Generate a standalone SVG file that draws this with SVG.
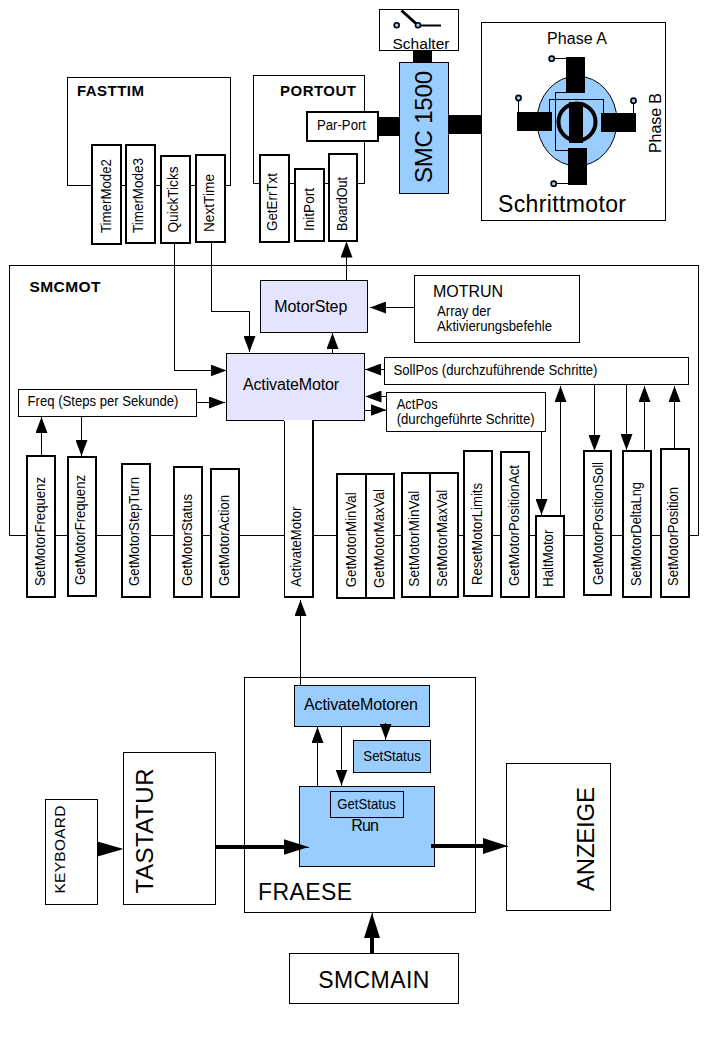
<svg xmlns="http://www.w3.org/2000/svg" width="719" height="1048" viewBox="0 0 719 1048">
<style>
text{font-family:"Liberation Sans",Arial,sans-serif;fill:#000;font-size:14px}
.b{fill:#fff;stroke:#000;stroke-width:1;shape-rendering:crispEdges}
.m{fill:#fff;stroke:#000;stroke-width:2;shape-rendering:crispEdges}
.blue{fill:#99ccff;stroke:#000;stroke-width:1;shape-rendering:crispEdges}
.lav{fill:#e4e4ff;stroke:#000;stroke-width:1;shape-rendering:crispEdges}
.k{fill:#000;stroke:none;shape-rendering:crispEdges}
.c{fill:none;stroke:#000;stroke-width:1;marker-end:url(#a);shape-rendering:crispEdges}
.n{fill:none;stroke:#000;stroke-width:1;shape-rendering:crispEdges}
.h{fill:none;stroke:#000;stroke-width:4;shape-rendering:crispEdges}
.ht{fill:none;stroke:#000;stroke-width:1;marker-end:url(#t);shape-rendering:crispEdges}
.pin{fill:#99ccff;stroke:#000;stroke-width:1.6}
.bold{font-weight:bold;font-size:15px}
.s16{font-size:16px}.s15{font-size:15.5px}.s24{font-size:24px}.s23{font-size:23px}
</style>
<defs>
<marker id="a" markerUnits="userSpaceOnUse" markerWidth="16" markerHeight="12" viewBox="0 0 16 12" refX="16" refY="6" orient="auto"><polygon points="0,0 16,6 0,12" fill="#000"/></marker>
<marker id="t" markerUnits="userSpaceOnUse" markerWidth="25" markerHeight="16" viewBox="0 0 25 16" refX="25" refY="8" orient="auto"><polygon points="0,0 25,8 0,16" fill="#000"/></marker>
</defs>

<g id="FASTTIM"><rect class="b" x="67.5" y="77.5" width="163" height="108"/><text class="bold" x="77" y="96" textLength="67">FASTTIM</text></g>
<g id="PORTOUT"><rect class="b" x="253.5" y="75.5" width="111" height="108"/><text class="bold" x="280" y="96" textLength="76">PORTOUT</text></g>
<g id="SMCMOT"><rect class="b" x="9.5" y="265.5" width="689" height="270"/><text class="bold" x="29.5" y="292" textLength="71" style="font-size:15.5px">SMCMOT</text></g>
<g id="FRAESE"><rect class="b" x="244.5" y="677.5" width="231" height="235"/><text class="s23" x="258" y="899.5" textLength="94">FRAESE</text></g>

<g id="Schalter"><rect class="b" x="379.5" y="9.5" width="79" height="41"/><path d="M401.5 10.5 416.5 24" stroke="#000" stroke-width="3" fill="none"/><path d="M418 25.5H441" stroke="#000" stroke-width="2" fill="none"/><circle class="pin" cx="396.7" cy="25.3" r="2.5"/><circle class="pin" cx="418" cy="25.3" r="2.5"/><text class="s15" x="392.5" y="48.5" textLength="57">Schalter</text></g>
<g id="SMC1500"><rect class="k" x="413" y="50" width="19" height="12"/><rect class="k" x="379" y="117" width="20" height="19"/><rect class="k" x="449" y="115" width="32" height="19"/><rect class="blue" x="399.5" y="62.5" width="49" height="131"/><text class="s24" transform="translate(432,183) rotate(-90)" textLength="112">SMC 1500</text></g>
<g id="Schrittmotor"><rect class="b" x="481.5" y="22.5" width="184" height="198"/>
<ellipse cx="577" cy="121" rx="40" ry="45" fill="#99ccff" stroke="#000" stroke-width="1"/>
<rect class="k" x="566" y="57" width="19" height="36"/><rect class="k" x="568" y="148" width="19" height="37"/><rect class="k" x="517" y="112" width="35" height="19"/><rect class="k" x="601" y="113" width="35" height="19"/>
<circle cx="577" cy="122" r="18.5" fill="none" stroke="#000" stroke-width="4"/><rect class="k" x="569" y="102" width="14" height="41"/>
<path class="n" d="M566 92.5H555.5V150.5H568M549.5 112V99.5H603.5V113M552 58.5H566M553.5 183.5H568M518.5 98V112M633.5 101V113"/>
<circle class="pin" cx="551.7" cy="58.7" r="2.6"/><circle class="pin" cx="553.7" cy="183.7" r="2.6"/><circle class="pin" cx="518.5" cy="98" r="2.6"/><circle class="pin" cx="633.5" cy="100.7" r="2.6"/>
<text class="s16" x="547" y="43.5" textLength="60">Phase A</text><text class="s16" transform="translate(661,153) rotate(-90)" textLength="60">Phase B</text><text class="s23" x="498" y="212" textLength="128">Schrittmotor</text></g>
<g id="ParPort"><rect class="m" x="307" y="112" width="71" height="29"/><text x="317" y="130" textLength="49" lengthAdjust="spacingAndGlyphs">Par-Port</text></g>

<g id="TimerMode2"><rect class="m" x="92" y="145" width="29" height="99"/><text transform="translate(110.7,233) rotate(-90)" textLength="74" lengthAdjust="spacingAndGlyphs">TimerMode2</text></g>
<g id="TimerMode3"><rect class="m" x="126" y="145" width="29" height="98"/><text transform="translate(143.3,233) rotate(-90)" textLength="75" lengthAdjust="spacingAndGlyphs">TimerMode3</text></g>
<g id="QuickTicks"><rect class="m" x="161" y="156" width="29" height="87"/><text transform="translate(178.3,232.5) rotate(-90)" textLength="66" lengthAdjust="spacingAndGlyphs">QuickTicks</text></g>
<g id="NextTime"><rect class="m" x="196" y="155" width="29" height="87"/><text transform="translate(214.3,232) rotate(-90)" textLength="58" lengthAdjust="spacingAndGlyphs">NextTime</text></g>
<g id="GetErrTxt"><rect class="m" x="260" y="155" width="29" height="87"/><text transform="translate(276.7,231) rotate(-90)" textLength="58" lengthAdjust="spacingAndGlyphs">GetErrTxt</text></g>
<g id="InitPort"><rect class="m" x="295" y="169" width="29" height="72"/><text transform="translate(314,231) rotate(-90)" textLength="43" lengthAdjust="spacingAndGlyphs">InitPort</text></g>
<g id="BoardOut"><rect class="m" x="329" y="154" width="28" height="87"/><text transform="translate(346.7,231) rotate(-90)" textLength="54" lengthAdjust="spacingAndGlyphs">BoardOut</text></g>

<g id="MotorStep"><rect class="lav" x="260.5" y="280.5" width="107" height="52"/><text class="s16" x="274.3" y="312" textLength="73">MotorStep</text></g>
<g id="ActivateMotorBox"><rect class="lav" x="226.5" y="353.5" width="138" height="67"/><text class="s16" x="243" y="389.5" textLength="96">ActivateMotor</text></g>
<g id="MOTRUN"><rect class="b" x="414.5" y="275.5" width="165" height="67"/><text class="s16" x="433" y="297" textLength="70">MOTRUN</text><text x="437" y="316" textLength="54" lengthAdjust="spacingAndGlyphs">Array der</text><text x="437" y="331" textLength="115" lengthAdjust="spacingAndGlyphs">Aktivierungsbefehle</text></g>
<g id="Freq"><rect class="b" x="18.5" y="389.5" width="178" height="27"/><text x="27.5" y="406" textLength="151" lengthAdjust="spacingAndGlyphs">Freq (Steps per Sekunde)</text></g>
<g id="SollPos"><rect class="b" x="384.5" y="357.5" width="304" height="27"/><text x="393.5" y="374.5" textLength="204" lengthAdjust="spacingAndGlyphs">SollPos (durchzuführende Schritte)</text></g>
<g id="ActPos"><rect class="b" x="386.5" y="392.5" width="159" height="39"/><text x="396.7" y="409" textLength="41" lengthAdjust="spacingAndGlyphs">ActPos</text><text x="396.7" y="423.5" textLength="138" lengthAdjust="spacingAndGlyphs">(durchgeführte Schritte)</text></g>

<g id="SetMotorFrequenz"><rect class="m" x="27" y="456" width="28" height="141"/><text transform="translate(45,586) rotate(-90)" textLength="109" lengthAdjust="spacingAndGlyphs">SetMotorFrequenz</text></g>
<g id="GetMotorFrequenz"><rect class="m" x="68" y="457" width="28" height="139"/><text transform="translate(85.3,585) rotate(-90)" textLength="110" lengthAdjust="spacingAndGlyphs">GetMotorFrequenz</text></g>
<g id="GetMotorStepTurn"><rect class="m" x="122" y="464" width="28" height="133"/><text transform="translate(139.3,586) rotate(-90)" textLength="109" lengthAdjust="spacingAndGlyphs">GetMotorStepTurn</text></g>
<g id="GetMotorStatus"><rect class="m" x="174" y="467" width="28" height="130"/><text transform="translate(191.7,586) rotate(-90)" textLength="92" lengthAdjust="spacingAndGlyphs">GetMotorStatus</text></g>
<g id="GetMotorAction"><rect class="m" x="211" y="469" width="28" height="128"/><text transform="translate(229,586) rotate(-90)" textLength="91" lengthAdjust="spacingAndGlyphs">GetMotorAction</text></g>
<g id="ActivateMotor"><rect x="284" y="420" width="28" height="177" fill="#fff"/><path d="M284 597H312.5V420" fill="none" stroke="#000" stroke-width="2" shape-rendering="crispEdges"/><path d="M284 421V597" fill="none" stroke="#000" stroke-width="1" shape-rendering="crispEdges"/><text transform="translate(301,586.7) rotate(-90)" textLength="80" lengthAdjust="spacingAndGlyphs">ActivateMotor</text></g>
<g id="GetMotorMinVal"><rect class="m" x="337" y="474" width="29" height="124"/><text transform="translate(356,587.3) rotate(-90)" textLength="95" lengthAdjust="spacingAndGlyphs">GetMotorMinVal</text></g>
<g id="GetMotorMaxVal"><rect class="m" x="366" y="474" width="28" height="124"/><text transform="translate(383.7,588) rotate(-90)" textLength="99" lengthAdjust="spacingAndGlyphs">GetMotorMaxVal</text></g>
<g id="SetMotorMinVal"><rect class="m" x="402" y="473" width="28" height="124"/><text transform="translate(419,586.7) rotate(-90)" textLength="96" lengthAdjust="spacingAndGlyphs">SetMotorMinVal</text></g>
<g id="SetMotorMaxVal"><rect class="m" x="430" y="473" width="28" height="124"/><text transform="translate(446.7,586.7) rotate(-90)" textLength="97" lengthAdjust="spacingAndGlyphs">SetMotorMaxVal</text></g>
<g id="ResetMotorLimits"><rect class="m" x="464" y="451" width="28" height="145"/><text transform="translate(481.7,585) rotate(-90)" textLength="102" lengthAdjust="spacingAndGlyphs">ResetMotorLimits</text></g>
<g id="GetMotorPositionAct"><rect class="m" x="501" y="452" width="28" height="145"/><text transform="translate(518.7,586) rotate(-90)" textLength="121" lengthAdjust="spacingAndGlyphs">GetMotorPositionAct</text></g>
<g id="HaltMotor"><rect class="m" x="536" y="516" width="28" height="81"/><text transform="translate(553.3,586.7) rotate(-90)" textLength="57" lengthAdjust="spacingAndGlyphs">HaltMotor</text></g>
<g id="GetMotorPositionSoll"><rect class="m" x="584" y="451" width="27" height="144"/><text transform="translate(603.3,585) rotate(-90)" textLength="123" lengthAdjust="spacingAndGlyphs">GetMotorPositionSoll</text></g>
<g id="SetMotorDeltaLng"><rect class="m" x="623" y="451" width="28" height="146"/><text transform="translate(641,586) rotate(-90)" textLength="104" lengthAdjust="spacingAndGlyphs">SetMotorDeltaLng</text></g>
<g id="SetMotorPosition"><rect class="m" x="661" y="449" width="28" height="148"/><text transform="translate(677.7,586) rotate(-90)" textLength="99" lengthAdjust="spacingAndGlyphs">SetMotorPosition</text></g>

<g id="ActivateMotoren"><rect class="blue" x="294.5" y="685.5" width="135" height="41"/><text class="s16" x="304" y="710" textLength="114">ActivateMotoren</text></g>
<g id="SetStatus"><rect class="blue" x="353.5" y="740.5" width="77" height="32"/><text x="363.3" y="761" textLength="57.5" lengthAdjust="spacingAndGlyphs">SetStatus</text></g>
<g id="Run"><rect class="blue" x="299.5" y="786.5" width="135" height="80"/><text class="s16" x="351.3" y="831" textLength="27.5">Run</text></g>
<g id="GetStatus"><rect class="blue" x="330.5" y="791.5" width="73" height="26"/><text x="337.3" y="809" textLength="58.5" lengthAdjust="spacingAndGlyphs">GetStatus</text></g>
<g id="KEYBOARD"><rect class="b" x="45.5" y="799.5" width="52" height="105"/><text class="s15" transform="translate(65,893.5) rotate(-90)" textLength="88">KEYBOARD</text></g>
<g id="TASTATUR"><rect class="b" x="123.5" y="752.5" width="92" height="152"/><text class="s24" transform="translate(153.3,893.5) rotate(-90)" textLength="125">TASTATUR</text></g>
<g id="ANZEIGE"><rect class="b" x="506.5" y="763.5" width="104" height="147"/><text class="s24" transform="translate(594,891) rotate(-90)" textLength="104">ANZEIGE</text></g>
<g id="SMCMAIN"><rect class="b" x="289.5" y="953.5" width="169" height="50"/><text class="s23" x="318.3" y="987.5" textLength="111">SMCMAIN</text></g>

<g id="connectors">
<path class="c" d="M346.5 280.5V241.5"/>
<path class="c" d="M174.5 243V370.5H226.5"/>
<path class="c" d="M211.5 242V311.5H249.5V352"/>
<path class="c" d="M332.5 353V333"/>
<path class="c" d="M414 307.5H370"/>
<path class="c" d="M197 402.5H225"/>
<path class="c" d="M384 369.5H365"/>
<path class="c" d="M386 396.5H365.5"/>
<path class="c" d="M365 410H386.5"/>
<path class="c" d="M41.5 456V417"/>
<path class="c" d="M81.5 416.5V456"/>
<path class="c" d="M541.5 431.5V515"/>
<path class="c" d="M560.5 515V386"/>
<path class="c" d="M594.5 384.5V451"/>
<path class="c" d="M626.5 384.5V450"/>
<path class="c" d="M644.5 450V386"/>
<path class="c" d="M674.5 448V386"/>
<path class="c" d="M300.5 685V600"/>
<path class="c" d="M317.5 786V727"/>
<path class="c" d="M341.5 726.5V785.5"/>
<path class="c" d="M385.7 723V739.5"/>
<polygon points="97.5,841.5 123.5,849 97.5,856.5" fill="#000"/>
<path class="h" d="M215.5 847H290"/><path class="ht" d="M283 847H308.5"/>
<path class="h" d="M431 846H490"/><path class="ht" d="M483 846H507.7"/>
<path class="h" d="M372 953V930"/><path class="ht" d="M372 937V913"/>
</g>
</svg>
